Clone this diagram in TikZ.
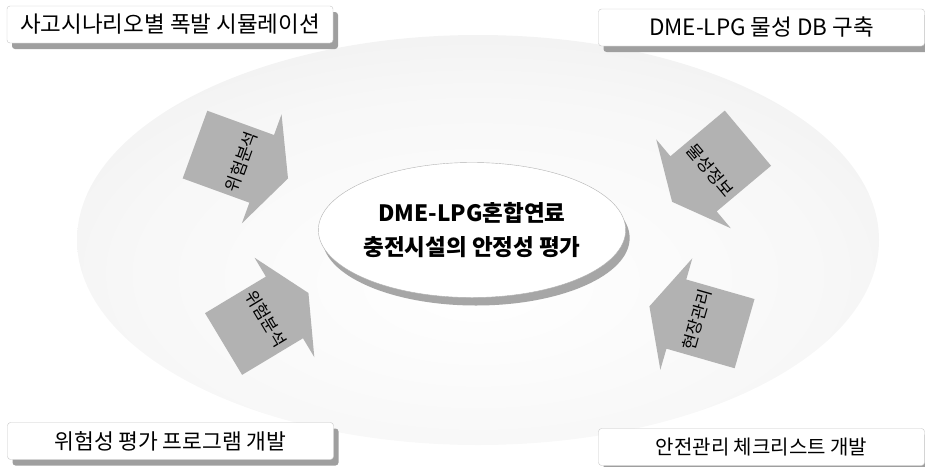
\documentclass[tikz,border=0pt]{standalone}
\usepackage{fontspec}
\setmainfont{Noto Sans CJK KR}
\usepackage{tikz}
\usetikzlibrary{positioning, shapes.geometric, shadows}
\pgfdeclareradialshading{bgglow}{\pgfpoint{0bp}{-6bp}}{color(0bp)=(white); color(22bp)=(gray!6); color(42bp)=(gray!17); color(50bp)=(gray!26); color(70bp)=(gray!26)}

\begin{document}
\begin{tikzpicture}[x=1pt, y=1pt]
	\tikzstyle{goalbox}=[draw=gray!45, fill=white, rounded corners=3pt, minimum width=326pt, minimum height=37pt, inner sep=0pt, drop shadow={shadow xshift=5pt, shadow yshift=-6pt, fill=gray!75, opacity=1}]
	\tikzstyle{core}=[ellipse, draw=gray!60, fill=white, minimum width=290pt, minimum height=135pt, inner sep=0pt, align=center, font=\bfseries\fontsize{22.5}{34}\selectfont, drop shadow={shadow xshift=4pt, shadow yshift=-8pt, fill=gray!70, opacity=1}]
	\tikzstyle{arrowfill}=[fill=gray!60]
	\tikzstyle{tag}=[inner sep=0pt, font=\fontsize{17}{17}\selectfont]
	\useasboundingbox (0,0) rectangle (925,-466);
	% background
	\shade[shading=bgglow] (478,-240) ellipse (401 and 205);
	% corner boxes
	\node[goalbox, font=\fontsize{22.5}{22.5}\selectfont](sim) at (170,-24.5) {사고시나리오별 폭발 시뮬레이션};
	\node[goalbox, font=\fontsize{22.5}{22.5}\selectfont](db) at (761.5,-27.5) {DME-LPG 물성 DB 구축};
	\node[goalbox, font=\fontsize{21.5}{21.5}\selectfont](prog) at (170.5,-441) {위험성 평가 프로그램 개발};
	\node[goalbox, font=\fontsize{20}{20}\selectfont](check) at (761.5,-447) {안전관리 체크리스트 개발};
	% block arrows
	\foreach \x/\y/\a/\r/\t [count=\i] in {241.5/-161.5/-20/70/위험분석, 266/-318.5/31/-59/위험분석, 710/-170/220/-50/물성정보, 697/-320/164/74/현장관리}{
		\fill[arrowfill, shift={(\x,\y)}, rotate=\a] (-49.5,36) -- (21.5,36) -- (21.5,58) -- (49.5,0) -- (21.5,-58) -- (21.5,-36) -- (-49.5,-36) -- cycle;
		\node[tag, rotate=\r](tag\i) at (\x,\y) {\t};
	}
	% center
	\node[core](core) at (472,-230) {DME-LPG혼합연료\\충전시설의 안정성 평가};
\end{tikzpicture}
\end{document}
